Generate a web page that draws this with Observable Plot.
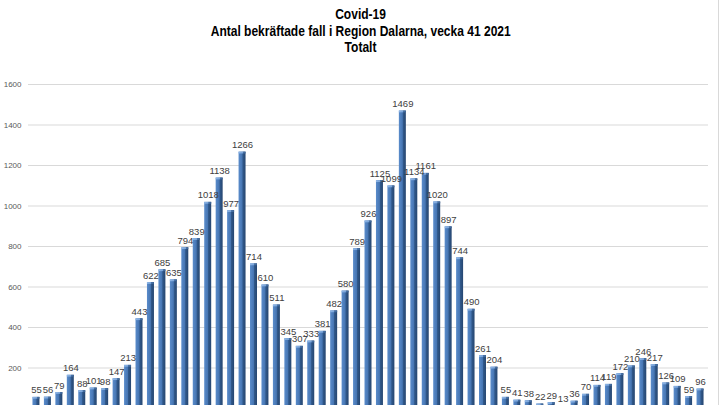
<!DOCTYPE html>
<html>
<head>
<meta charset="utf-8">
<script src="https://cdn.jsdelivr.net/npm/d3@7"></script>
<script src="https://cdn.jsdelivr.net/npm/@observablehq/plot@0.6"></script>
<style>
  html, body { margin: 0; padding: 0; background: #fff; overflow: hidden; }
  #wrap { position: relative; width: 721px; height: 405px; overflow: hidden; }
  #title { position: absolute; left: 0; top: 6px; width: 721px; text-align: center;
           font-family: "Liberation Sans", sans-serif; font-weight: bold;
           font-size: 14px; line-height: 16.5px; color: #000; }
  #title span { display: inline-block; white-space: nowrap; }
  #chart { position: absolute; left: 0; top: 60px; }
  #border { position: absolute; left: 718px; top: 0; width: 1px; height: 405px; background: #d9d9d9; }
</style>
</head>
<body>
<div id="wrap">
  <div id="title"><span id="t1">Covid-19</span><br><span id="t2">Antal bekräftade fall i Region Dalarna, vecka 41 2021</span><br><span id="t3">Totalt</span></div>
  <div id="chart"></div>
  <div id="border"></div>
</div>
<script>
const cases = [55, 56, 79, 164, 88, 101, 98, 147, 213, 443, 622, 685, 635, 794, 839, 1018, 1138, 977, 1266,
  714, 610, 511, 345, 307, 333, 381, 482, 580, 789, 926, 1125, 1099, 1469, 1134, 1161, 1020, 897, 744, 490,
  261, 204, 55, 41, 38, 22, 29, 13, 36, 70, 114, 119, 172, 210, 246, 217, 126, 109, 59, 96];
const yTicks = [0, 200, 400, 600, 800, 1000, 1200, 1400, 1600];

const data = cases.map((v, i) => ({i, v}));

const svg = Plot.plot({
  width: 721,
  height: 378,
  marginLeft: 28,
  marginRight: 13,
  marginTop: 24,
  marginBottom: 30,
  style: {background: "transparent", overflow: "visible"},
  x: {type: "band", domain: data.map(d => d.i), padding: 0.39, round: false, axis: null},
  y: {domain: [0, 1600], axis: null},
  marks: [
    Plot.ruleY(yTicks, {stroke: "#d9d9d9", strokeWidth: 1}),
    Plot.axisY(yTicks, {tickSize: 0, tickPadding: 7, fontSize: 8, fill: "#595959",
      tickFormat: d => String(d), fontFamily: "Liberation Sans, sans-serif", label: null}),
    Plot.barY(data, {x: "i", y: "v", fill: "url(#barGrad)"}),
    Plot.barY(data, {x: "i", y1: d => Math.max(0, d.v - 9), y2: "v", fill: "url(#capGrad)"}),
    Plot.text(data, {x: "i", y: "v", text: d => String(d.v), dy: -4, lineAnchor: "bottom",
      fontSize: 9.5, fill: "#404040", fontFamily: "Liberation Sans Narrow, Liberation Sans, sans-serif"})
  ]
});

d3.select(svg).insert("defs", ":first-child").html(`
  <linearGradient id="barGrad" x1="0" y1="0" x2="1" y2="0">
    <stop offset="0%" stop-color="#5a8ccb"/>
    <stop offset="50%" stop-color="#4776b3"/>
    <stop offset="62%" stop-color="#30588a"/>
    <stop offset="100%" stop-color="#264670"/>
  </linearGradient>
  <linearGradient id="capGrad" x1="0" y1="0" x2="1" y2="0">
    <stop offset="0%" stop-color="#8fb6e6"/>
    <stop offset="60%" stop-color="#7aa4d8"/>
    <stop offset="62%" stop-color="#4a75ab"/>
    <stop offset="100%" stop-color="#3c6496"/>
  </linearGradient>`);

document.getElementById("chart").appendChild(svg);

// fit title width to reference (Calibri-like narrow bold)
const t2 = document.getElementById("t2");
const w = t2.getBoundingClientRect().width;
const s = 300 / w;
for (const id of ["t1", "t2", "t3"]) {
  document.getElementById(id).style.transform = `scaleX(${s})`;
}
</script>
</body>
</html>
